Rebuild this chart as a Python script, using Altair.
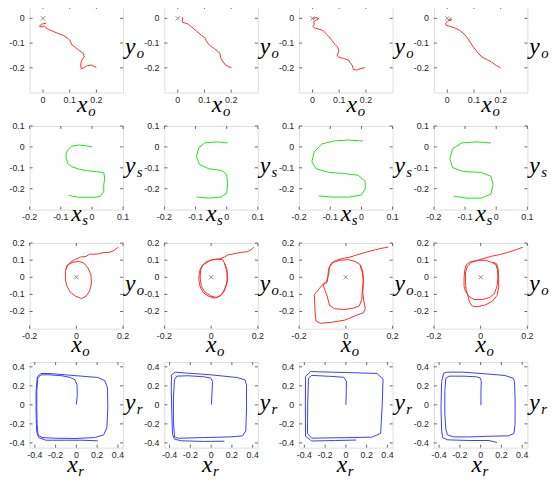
import altair as alt
import pandas as pd

# ---------------- data ----------------
# Row 1: object trajectories (x_o, y_o)
r1c1_x = [0.013, -0.007, -0.013, -0.004, 0.005, 0.011, 0.023, 0.041, 0.059, 0.078, 0.093, 0.102, 0.108, 0.122, 0.138, 0.152, 0.154, 0.144, 0.141, 0.144, 0.154, 0.166, 0.181, 0.200]
r1c1_y = [-0.019, -0.024, -0.032, -0.035, -0.030, -0.038, -0.046, -0.054, -0.062, -0.070, -0.081, -0.091, -0.107, -0.118, -0.132, -0.142, -0.156, -0.172, -0.189, -0.205, -0.199, -0.191, -0.189, -0.199]
r1c2_x = [0.018, 0.017, 0.028, 0.040, 0.052, 0.070, 0.088, 0.101, 0.109, 0.119, 0.137, 0.153, 0.158, 0.161, 0.170, 0.179, 0.192, 0.201]
r1c2_y = [0.005, -0.015, -0.019, -0.024, -0.035, -0.051, -0.068, -0.078, -0.095, -0.109, -0.122, -0.136, -0.142, -0.160, -0.176, -0.189, -0.196, -0.199]
r1c3_x = [0.001, 0.013, 0.023, 0.013, 0.004, 0.007, 0.001, 0.007, 0.020, 0.038, 0.052, 0.062, 0.074, 0.084, 0.093, 0.099, 0.093, 0.099, 0.117, 0.135, 0.148, 0.154, 0.166, 0.178, 0.196]
r1c3_y = [-0.001, 0.003, -0.001, -0.008, -0.015, -0.024, -0.032, -0.039, -0.042, -0.048, -0.064, -0.075, -0.091, -0.105, -0.115, -0.129, -0.149, -0.158, -0.162, -0.169, -0.189, -0.207, -0.209, -0.204, -0.199]
r1c4_x = [0.015, 0.008, 0.017, 0.002, -0.006, -0.004, 0.008, 0.027, 0.045, 0.059, 0.075, 0.087, 0.099, 0.115, 0.130, 0.148, 0.166, 0.184, 0.200]
r1c4_y = [0.003, -0.008, -0.005, -0.011, -0.019, -0.028, -0.032, -0.038, -0.048, -0.059, -0.078, -0.099, -0.118, -0.140, -0.156, -0.166, -0.177, -0.191, -0.200]

# Row 2: S-shaped paths (x_s, y_s)
r2c1_x = [0.000, -0.022, -0.043, -0.065, -0.077, -0.083, -0.083, -0.077, -0.065, -0.043, -0.016, 0.016, 0.038, 0.041, 0.038, 0.038, 0.027, 0.011, -0.016, -0.043, -0.062, -0.075]
r2c1_y = [0.000, 0.006, 0.009, 0.003, -0.013, -0.033, -0.056, -0.080, -0.095, -0.106, -0.114, -0.119, -0.123, -0.150, -0.181, -0.213, -0.236, -0.241, -0.241, -0.241, -0.236, -0.231]
r2c2_x = [0.003, -0.032, -0.071, -0.090, -0.097, -0.087, -0.058, -0.016, 0.000, 0.003, 0.000, -0.019, -0.058, -0.097]
r2c2_y = [0.019, 0.024, 0.019, -0.005, -0.047, -0.085, -0.104, -0.113, -0.132, -0.174, -0.221, -0.240, -0.245, -0.240]
r2c3_x = [0.005, -0.042, -0.089, -0.127, -0.152, -0.159, -0.146, -0.105, -0.058, -0.010, 0.012, 0.012, -0.001, -0.042, -0.089, -0.137]
r2c3_y = [0.028, 0.033, 0.028, 0.014, -0.024, -0.071, -0.104, -0.122, -0.127, -0.136, -0.165, -0.202, -0.231, -0.240, -0.240, -0.235]
r2c4_x = [-0.017, -0.064, -0.111, -0.140, -0.149, -0.140, -0.105, -0.048, -0.017, -0.010, -0.017, -0.048, -0.096, -0.137]
r2c4_y = [0.019, 0.024, 0.019, -0.009, -0.056, -0.099, -0.118, -0.122, -0.141, -0.179, -0.226, -0.245, -0.245, -0.235]

# Row 3: orbiting object (x_o, y_o)
r3c1_x = [0.180, 0.161, 0.140, 0.118, 0.096, 0.075, 0.056, 0.042, 0.017, -0.007, -0.026, -0.040, -0.047, -0.047, -0.040, -0.026, -0.004, 0.022, 0.042, 0.056, 0.065, 0.062, 0.050, 0.032, 0.010, -0.016, -0.036, -0.045]
r3c1_y = [0.176, 0.157, 0.145, 0.145, 0.137, 0.135, 0.135, 0.122, 0.118, 0.103, 0.087, 0.068, 0.035, -0.014, -0.052, -0.087, -0.110, -0.124, -0.110, -0.081, -0.033, 0.015, 0.054, 0.083, 0.093, 0.087, 0.073, 0.044]
r3c2_x = [0.183, 0.171, 0.154, 0.125, 0.096, 0.071, 0.056, 0.032, 0.007, -0.019, -0.039, -0.050, -0.053, -0.047, -0.033, -0.012, 0.013, 0.039, 0.056, 0.068, 0.068, 0.062, 0.050, 0.024, -0.004, -0.033, -0.045, -0.047, -0.042, -0.026, -0.001, 0.024, 0.046, 0.060, 0.071, 0.068, 0.056]
r3c2_y = [0.176, 0.161, 0.149, 0.145, 0.137, 0.130, 0.118, 0.106, 0.103, 0.091, 0.068, 0.035, -0.014, -0.056, -0.091, -0.110, -0.122, -0.110, -0.081, -0.033, 0.025, 0.068, 0.103, 0.106, 0.099, 0.074, 0.044, -0.004, -0.052, -0.087, -0.110, -0.118, -0.101, -0.062, -0.014, 0.044, 0.083]
r3c3_x = [0.181, 0.155, 0.126, 0.083, 0.046, 0.017, -0.012, -0.041, -0.062, -0.074, -0.077, -0.080, -0.097, -0.091, -0.080, -0.070, -0.048, -0.004, 0.032, 0.057, 0.068, 0.071, 0.075, 0.072, 0.061, 0.039, 0.010, -0.026, -0.055, -0.070, -0.074, -0.083, -0.103, -0.135, -0.132, -0.128, -0.109, -0.062, -0.004, 0.046, 0.075, 0.083, 0.077, 0.072, 0.075, 0.071, 0.061]
r3c3_y = [0.176, 0.170, 0.161, 0.145, 0.130, 0.118, 0.110, 0.099, 0.083, 0.048, 0.006, -0.029, -0.043, -0.072, -0.110, -0.164, -0.184, -0.188, -0.180, -0.168, -0.130, -0.072, -0.014, 0.035, 0.074, 0.093, 0.103, 0.099, 0.087, 0.060, 0.015, -0.023, -0.048, -0.101, -0.197, -0.255, -0.269, -0.263, -0.250, -0.222, -0.207, -0.184, -0.139, -0.091, -0.033, 0.025, 0.068]
r3c4_x = [0.181, 0.152, 0.116, 0.080, 0.043, 0.014, -0.014, -0.043, -0.061, -0.068, -0.071, -0.071, -0.065, -0.051, -0.029, 0.007, 0.039, 0.059, 0.070, 0.074, 0.072, 0.065, 0.048, 0.022, -0.010, -0.039, -0.057, -0.065, -0.065, -0.062, -0.054, -0.048, -0.036, -0.014, 0.022, 0.051, 0.070, 0.077, 0.077, 0.075, 0.068, 0.051]
r3c4_y = [0.176, 0.161, 0.145, 0.132, 0.122, 0.110, 0.099, 0.091, 0.074, 0.044, -0.004, -0.052, -0.081, -0.110, -0.130, -0.130, -0.118, -0.095, -0.052, -0.004, 0.044, 0.074, 0.087, 0.099, 0.099, 0.087, 0.064, 0.025, -0.023, -0.072, -0.110, -0.145, -0.168, -0.172, -0.161, -0.139, -0.106, -0.062, -0.004, 0.048, 0.079, 0.089]

# Row 4: robot paths (x_r, y_r)
r4c1_x = [0.000, 0.009, 0.006, -0.013, -0.059, -0.138, -0.263, -0.341, -0.372, -0.381, -0.381, -0.378, -0.369, -0.331, -0.200, -0.013, 0.175, 0.263, 0.294, 0.303, 0.300, 0.275, 0.206, 0.050, -0.106, -0.263, -0.341, -0.375, -0.388, -0.388, -0.381, -0.363, -0.294, -0.106, 0.050, 0.206]
r4c1_y = [0.003, 0.108, 0.212, 0.264, 0.288, 0.306, 0.316, 0.316, 0.281, 0.142, -0.031, -0.205, -0.316, -0.344, -0.351, -0.354, -0.344, -0.316, -0.240, -0.031, 0.177, 0.253, 0.288, 0.302, 0.316, 0.330, 0.330, 0.299, 0.142, -0.101, -0.292, -0.344, -0.372, -0.372, -0.372, -0.378]
r4c2_x = [0.003, 0.009, 0.013, -0.003, -0.066, -0.222, -0.331, -0.353, -0.363, -0.363, -0.353, -0.316, -0.066, 0.184, 0.303, 0.334, 0.341, 0.341, 0.325, 0.247, -0.003, -0.222, -0.347, -0.381, -0.384, -0.378, -0.372, -0.353, -0.284, -0.066, 0.128]
r4c2_y = [0.003, 0.142, 0.247, 0.281, 0.295, 0.306, 0.302, 0.264, 0.073, -0.170, -0.337, -0.351, -0.344, -0.337, -0.326, -0.274, -0.031, 0.212, 0.264, 0.288, 0.316, 0.333, 0.344, 0.316, 0.177, -0.101, -0.309, -0.361, -0.378, -0.385, -0.382]
r4c3_x = [0.000, 0.004, 0.005, -0.020, -0.150, -0.330, -0.360, -0.368, -0.370, -0.330, 0.000, 0.250, 0.335, 0.350, 0.358, 0.300, 0.000, -0.340, -0.388, -0.390, -0.388, -0.330, -0.100, 0.100]
r4c3_y = [0.000, 0.150, 0.250, 0.290, 0.300, 0.310, 0.280, 0.000, -0.300, -0.350, -0.345, -0.340, -0.300, 0.000, 0.270, 0.330, 0.340, 0.350, 0.300, 0.000, -0.330, -0.380, -0.375, -0.370]
r4c4_x = [0.003, 0.003, 0.006, -0.003, -0.037, -0.166, -0.305, -0.335, -0.345, -0.345, -0.335, -0.320, -0.258, -0.105, 0.080, 0.265, 0.320, 0.332, 0.332, 0.326, 0.311, 0.234, 0.049, -0.166, -0.320, -0.357, -0.375, -0.382, -0.375, -0.366, -0.320, -0.105, 0.080, 0.157]
r4c4_y = [-0.003, 0.142, 0.247, 0.281, 0.295, 0.302, 0.302, 0.281, 0.142, -0.101, -0.257, -0.316, -0.337, -0.337, -0.330, -0.326, -0.302, -0.205, 0.073, 0.247, 0.281, 0.309, 0.326, 0.344, 0.344, 0.333, 0.247, -0.031, -0.274, -0.344, -0.368, -0.375, -0.375, -0.396]

# axes per row
row_xdomain = [[-0.05, 0.3], [-0.2, 0.1], [-0.2, 0.2], [-0.45, 0.45]]
row_ydomain = [[-0.3, 0.05], [-0.3, 0.1], [-0.3, 0.2], [-0.45, 0.45]]
row_xticks = [[0, 0.1, 0.2], [-0.2, -0.1, 0, 0.1], [-0.2, 0, 0.2], [-0.4, -0.2, 0, 0.2, 0.4]]
row_xlabels = [["0", "0.1", "0.2"], ["-0.2", "-0.1", "0", "0.1"], ["-0.2", "0", "0.2"], ["-0.4", "-0.2", "0", "0.2", "0.4"]]
row_yticks = [[-0.2, -0.1, 0], [-0.2, -0.1, 0, 0.1], [-0.2, -0.1, 0, 0.1, 0.2], [-0.4, -0.2, 0, 0.2, 0.4]]
row_ylabels = [["-0.2", "-0.1", "0"], ["-0.2", "-0.1", "0", "0.1"], ["-0.2", "-0.1", "0", "0.1", "0.2"], ["-0.4", "-0.2", "0", "0.2", "0.4"]]
row_sub = ["o", "s", "o", "r"]
row_color = ["#ff2a2a", "#22dd22", "#ff2a2a", "#3a3aff"]
row_marker = [True, False, True, False]

panels_x = [[r1c1_x, r1c2_x, r1c3_x, r1c4_x], [r2c1_x, r2c2_x, r2c3_x, r2c4_x],
            [r3c1_x, r3c2_x, r3c3_x, r3c4_x], [r4c1_x, r4c2_x, r4c3_x, r4c4_x]]
panels_y = [[r1c1_y, r1c2_y, r1c3_y, r1c4_y], [r2c1_y, r2c2_y, r2c3_y, r2c4_y],
            [r3c1_y, r3c2_y, r3c3_y, r3c4_y], [r4c1_y, r4c2_y, r4c3_y, r4c4_y]]

# ---------------- layout / style ----------------
W = 95
row_H = [88, 85, 87, 87]
row_xt_dy = [20, 12, 24, 25]
row_xt_dx = [6, 0, 0, -4]
FRAME = "#666666"
LABEL = "#262626"
SERIF = "Liberation Serif"
SANS = "Liberation Sans"


def panel(r, c):
    H = row_H[r]
    xs = alt.Scale(domain=row_xdomain[r], nice=False, zero=False)
    ys = alt.Scale(domain=row_ydomain[r], nice=False, zero=False)

    df = pd.DataFrame({"x": panels_x[r][c], "y": panels_y[r][c]})
    df["i"] = range(len(df))
    line = alt.Chart(df).mark_line(color=row_color[r], strokeWidth=1, clip=True).encode(
        x=alt.X("x:Q", scale=xs, axis=None),
        y=alt.Y("y:Q", scale=ys, axis=None),
        order="i:Q",
    )
    layers = [line]
    if row_marker[r]:
        mk = alt.Chart(pd.DataFrame({"x": [0.0], "y": [0.0]})).mark_point(
            shape="M-1,-1L1,1M-1,1L1,-1", size=18, stroke="#555555", strokeWidth=1, filled=False
        ).encode(x=alt.X("x:Q", scale=xs, axis=None), y=alt.Y("y:Q", scale=ys, axis=None))
        layers.append(mk)

    tx = pd.DataFrame({"t": row_xticks[r], "lab": row_xlabels[r]})
    ty = pd.DataFrame({"t": row_yticks[r], "lab": row_ylabels[r]})
    X = alt.X("t:Q", scale=xs, axis=None)
    Y = alt.Y("t:Q", scale=ys, axis=None)
    tk = dict(color=FRAME, strokeWidth=1)
    lab = dict(font=SANS, fontSize=9, color=LABEL)
    layers += [
        alt.Chart(tx).mark_rule(**tk).encode(x=X, y=alt.value(H), y2=alt.value(H - 3)),
        alt.Chart(tx).mark_rule(**tk).encode(x=X, y=alt.value(0), y2=alt.value(3)),
        alt.Chart(ty).mark_rule(**tk).encode(y=Y, x=alt.value(0), x2=alt.value(3)),
        alt.Chart(ty).mark_rule(**tk).encode(y=Y, x=alt.value(W - 3), x2=alt.value(W)),
        alt.Chart(tx).mark_text(align="center", baseline="top", **lab).encode(
            x=X, y=alt.value(H + 4), text="lab:N"),
        alt.Chart(ty).mark_text(align="right", baseline="middle", **lab).encode(
            y=Y, x=alt.value(-5), text="lab:N"),
    ]

    one = pd.DataFrame({"a": [0]})
    big = dict(font=SERIF, fontStyle="italic", fontSize=24, color="black", baseline="alphabetic")
    small = dict(font=SERIF, fontStyle="italic", fontSize=15, color="black", baseline="alphabetic")
    xt_y = H + row_xt_dy[r]
    xt_x = W / 2 + row_xt_dx[r]
    layers += [
        alt.Chart(one).mark_text(align="center", **big).encode(
            x=alt.value(xt_x), y=alt.value(xt_y), text=alt.value("x")),
        alt.Chart(one).mark_text(align="left", **small).encode(
            x=alt.value(xt_x + 6), y=alt.value(xt_y + 4), text=alt.value(row_sub[r])),
        alt.Chart(one).mark_text(align="left", **big).encode(
            x=alt.value(W + 2), y=alt.value(H / 2 + 5), text=alt.value("y")),
        alt.Chart(one).mark_text(align="left", **small).encode(
            x=alt.value(W + 14), y=alt.value(H / 2 + 9), text=alt.value(row_sub[r])),
    ]
    return alt.layer(*layers).properties(width=W, height=H)


panels = [panel(r, c) for r in range(4) for c in range(4)]
chart = alt.concat(*panels, columns=4, spacing={"row": 34, "column": 42}, bounds="flush").properties(
    padding={"left": 0, "top": -7, "right": 0, "bottom": 0}
).configure_view(stroke=FRAME, strokeWidth=1).configure(background="white")

chart.save("out.html", embed_options={"renderer": "svg", "actions": False})
